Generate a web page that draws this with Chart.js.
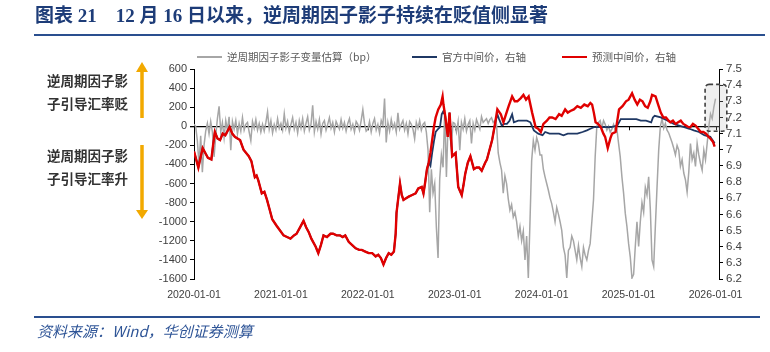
<!DOCTYPE html>
<html>
<head>
<meta charset="utf-8">
<script src="https://cdn.jsdelivr.net/npm/chart.js@4.4.1/dist/chart.umd.min.js"></script>
<style>
  html, body { margin: 0; padding: 0; background: #fff; }
  #wrap { position: relative; width: 770px; height: 352px; overflow: hidden; }
  #chart { position: absolute; left: 0; top: 0; }
  .abs { position: absolute; white-space: nowrap; }
  #title { left: 35px; top: 3px; font: bold 19px 'Liberation Serif', 'Noto Sans CJK SC', serif; color: #1d3c78; line-height: 26px; }
  .rule { position: absolute; height: 2px; background: #2a4f8f; }
  .lg { top: 50px; font: 10.5px 'Noto Sans CJK SC', sans-serif; color: #595959; line-height: 14px; }
  .lg i { display: inline-block; width: 25px; height: 2px; vertical-align: middle; margin-right: 5px; position: relative; top: -1px; }
  .note { left: 47px; font: bold 13.5px 'Noto Sans CJK SC', sans-serif; color: #333; line-height: 18px; }
  #src { left: 37px; top: 321px; font: italic 15px 'Noto Sans CJK SC', sans-serif; color: #2f5597; line-height: 20px; }
</style>
</head>
<body>
<div id="wrap">
  <canvas id="chart" width="770" height="352"></canvas>
  <div id="title" class="abs">图表 21　12 月 16 日以来，逆周期因子影子持续在贬值侧显著</div>
  <div class="rule" style="left:34px; top:34px; width:731px;"></div>
  <div class="abs lg" style="left:197px;"><i style="background:#a6a6a6"></i>逆周期因子影子变量估算（bp）</div>
  <div class="abs lg" style="left:412px;"><i style="background:#1f3864"></i>官方中间价，右轴</div>
  <div class="abs lg" style="left:562px;"><i style="background:#e00000"></i>预测中间价，右轴</div>
  <div class="abs note" style="top:71px;">逆周期因子影</div>
  <div class="abs note" style="top:94px;">子引导汇率贬</div>
  <div class="abs note" style="top:146px;">逆周期因子影</div>
  <div class="abs note" style="top:169px;">子引导汇率升</div>
  <svg class="abs" style="left:130px; top:55px;" width="24" height="170">
    <polygon points="12,7 6,17 18,17" fill="#f2a900"/>
    <rect x="10.25" y="16" width="3.5" height="47" fill="#f2a900"/>
    <rect x="10.25" y="90" width="3.5" height="66" fill="#f2a900"/>
    <polygon points="12,164 6,155 18,155" fill="#f2a900"/>
  </svg>
  <div class="rule" style="left:34px; top:316px; width:726px;"></div>
  <div id="src" class="abs">资料来源：Wind，华创证券测算</div>
</div>
<script>
// x values are decimal years
var xTickYears = [2020, 2021, 2022, 2023, 2024, 2025, 2026];

// counter-cyclical factor shadow estimate (bp), weekly, left axis
var gray2020 = [20, 0, -150, -400, -100, -480, -200, -50, 30, -80, 50, -60, -320, -100, 80, 210, -60, 40, -120, 60, -40, 100, -250, 50, -30, 60, -80, 30, -50, 90, -40, 20, 40, -60, -150, 50, -20, 70, -40, 30, -60, 20, -50, 40, 150, -30, 60, -70, 20, -40, 80, -20];
var gray2021 = [30, -40, 130, -20, 50, -60, 20, 90, -30, 40, -70, 60, -20, 80, -50, 30, 100, -40, 20, 220, -60, 50, -30, 70, -80, 30, 60, -40, 20, 90, -20, 40, -60, 50, 10, -30, 70, -20, 40, -50, 30, 80, -30, 20, -60, 50, 20, -40, 60, 175, 30, -50];
var gray2022 = [-30, 50, -60, 30, 80, -40, 20, -70, 60, 10, 290, -170, 40, -50, 70, -20, 30, -60, 140, -30, 20, 60, -40, 30, -80, 50, 20, -30, -130, 40, -20, 60, -40, 20, 40, -60, -250, -900, -450, -700, -600, -1060, -1380, -550, -300, -430, 170, -530, 30, -100, -200, 40];
var gray2023 = [30, -60, 50, -250, 40, -30, 80, -50, 20, 60, -180, 30, -40, 70, 20, -30, 100, 40, 60, 80, 30, 70, 90, 40, 60, 20, -280, -380, -460, -700, -520, -600, -760, -880, -820, -950, -900, -1000, -1150, -1050, -1200, -1100, -1400, -1150, -1590, -1000, -360, -150, -250, -120, -180, -300];
var gray2024 = [-300, -450, -530, -600, -670, -750, -810, -900, -1000, -850, -920, -1000, -1090, -1270, -1350, -1590, -1300, -1270, -1150, -1200, -1300, -1400, -1250, -1380, -1470, -1270, -1350, -1400, -1300, -1230, -1000, -770, -320, 0, 40, 60, -20, 60, 20, -40, 0, -60, -30, 20, -40, -30, -180, -320, -530, -700, -910, -1050];
var gray2025 = [-1230, -1370, -1590, -1550, -1260, -1000, -1260, -1000, -800, -900, -640, -720, -530, -870, -1400, -1470, -1050, -640, -250, 0, 80, -20, 30, -40, -70, -120, -170, -230, -300, -200, -250, -420, -350, -490, -560, -690, -480, -180, -350, -280, -420, -180, -300, -390, -460, -250, -350, -180, 0, 130, 80, 200, 290];

// forecast central parity, right axis
var redTimes = [2020.00, 2020.02, 2020.05, 2020.07, 2020.10, 2020.13, 2020.16, 2020.20, 2020.22, 2020.24, 2020.27, 2020.30, 2020.33, 2020.36, 2020.39, 2020.41, 2020.44, 2020.47, 2020.50, 2020.53, 2020.57, 2020.60, 2020.63, 2020.66, 2020.70, 2020.72, 2020.74, 2020.78, 2020.81, 2020.84, 2020.87, 2020.90, 2020.95, 2020.99,
  2021.03, 2021.07, 2021.11, 2021.15, 2021.18, 2021.22, 2021.26, 2021.29, 2021.32, 2021.35, 2021.37, 2021.40, 2021.43, 2021.46, 2021.49, 2021.53, 2021.57, 2021.60, 2021.64, 2021.68, 2021.71, 2021.74, 2021.78, 2021.82, 2021.86, 2021.90, 2021.93, 2021.97,
  2022.01, 2022.05, 2022.09, 2022.12, 2022.15, 2022.18, 2022.21, 2022.24, 2022.27, 2022.30, 2022.32, 2022.33, 2022.35, 2022.37, 2022.39, 2022.41, 2022.44, 2022.47, 2022.51, 2022.55, 2022.58, 2022.62, 2022.64, 2022.66, 2022.68, 2022.70, 2022.72, 2022.74, 2022.76, 2022.78, 2022.81, 2022.84, 2022.86, 2022.87, 2022.89, 2022.92, 2022.94, 2022.97,
  2023.01, 2023.04, 2023.08, 2023.10, 2023.12, 2023.15, 2023.18, 2023.22, 2023.25, 2023.28, 2023.31, 2023.35, 2023.37, 2023.40, 2023.43, 2023.46, 2023.49, 2023.53, 2023.56, 2023.59, 2023.62, 2023.66, 2023.69, 2023.72, 2023.76, 2023.79, 2023.82, 2023.85, 2023.89, 2023.93, 2023.96, 2023.99,
  2024.02, 2024.06, 2024.09, 2024.12, 2024.16, 2024.20, 2024.23, 2024.27, 2024.30, 2024.33, 2024.37, 2024.41, 2024.45, 2024.49, 2024.53, 2024.56, 2024.58, 2024.60, 2024.62, 2024.65, 2024.68, 2024.71, 2024.73, 2024.76, 2024.79, 2024.81, 2024.85, 2024.87, 2024.89, 2024.93, 2024.97,
  2025.00, 2025.04, 2025.07, 2025.10, 2025.13, 2025.16, 2025.19, 2025.22, 2025.25, 2025.27, 2025.31, 2025.34, 2025.37, 2025.40, 2025.43, 2025.46, 2025.48, 2025.51, 2025.54, 2025.57, 2025.60, 2025.63, 2025.66, 2025.69, 2025.71, 2025.74, 2025.77, 2025.80, 2025.83, 2025.86, 2025.89, 2025.92, 2025.94, 2025.97, 2025.99];
var redValues = [6.99, 6.95, 6.89, 6.94, 7.01, 6.98, 6.95, 6.94, 7.03, 7.11, 7.07, 7.06, 7.10, 7.09, 7.12, 7.14, 7.10, 7.08, 7.07, 7.06, 7.00, 6.98, 6.96, 6.93, 6.83, 6.84, 6.81, 6.73, 6.74, 6.69, 6.63, 6.57, 6.53, 6.50,
  6.47, 6.46, 6.45, 6.47, 6.48, 6.52, 6.56, 6.52, 6.49, 6.45, 6.43, 6.40, 6.36, 6.41, 6.47, 6.46, 6.48, 6.48, 6.47, 6.47, 6.46, 6.47, 6.43, 6.41, 6.39, 6.38, 6.38, 6.37,
  6.36, 6.36, 6.34, 6.35, 6.33, 6.29, 6.33, 6.36, 6.35, 6.37, 6.48, 6.61, 6.70, 6.79, 6.72, 6.69, 6.70, 6.71, 6.72, 6.73, 6.76, 6.77, 6.73, 6.80, 6.88, 6.92, 6.98, 7.06, 7.14, 7.20, 7.25, 7.28, 7.33, 7.28, 7.21, 7.08, 7.23, 6.96,
  6.98, 6.77, 6.72, 6.78, 6.85, 6.92, 6.96, 6.88, 6.89, 6.89, 6.87, 6.92, 6.94, 7.00, 7.06, 7.15, 7.25, 7.22, 7.17, 7.22, 7.27, 7.33, 7.30, 7.30, 7.32, 7.34, 7.31, 7.33, 7.23, 7.14, 7.13, 7.11,
  7.16, 7.18, 7.20, 7.20, 7.19, 7.22, 7.21, 7.25, 7.23, 7.24, 7.25, 7.27, 7.26, 7.28, 7.27, 7.29, 7.28, 7.23, 7.17, 7.16, 7.14, 7.10, 7.08, 7.01, 7.07, 7.10, 7.11, 7.18, 7.25, 7.27, 7.30,
  7.31, 7.35, 7.31, 7.28, 7.31, 7.30, 7.27, 7.26, 7.30, 7.34, 7.33, 7.28, 7.23, 7.20, 7.20, 7.18, 7.17, 7.18, 7.16, 7.17, 7.18, 7.16, 7.15, 7.14, 7.14, 7.16, 7.15, 7.13, 7.11, 7.11, 7.10, 7.08, 7.07, 7.05, 7.02];

// official central parity, right axis: follows the forecast line in these spans, own values elsewhere
var blueSameAsRed = [[2020.00, 2022.70], [2022.89, 2023.46]];
var blueTimes = [2022.72, 2022.74, 2022.76, 2022.78, 2022.81, 2022.83, 2022.85, 2022.87,
  2023.49, 2023.51, 2023.54, 2023.57, 2023.60, 2023.63, 2023.66, 2023.68, 2023.73, 2023.78, 2023.83, 2023.87, 2023.91, 2023.96,
  2024.01, 2024.04, 2024.09, 2024.14, 2024.20, 2024.25, 2024.30, 2024.36, 2024.41, 2024.47, 2024.52, 2024.56, 2024.60, 2024.68, 2024.76, 2024.80, 2024.87, 2024.91, 2024.97,
  2025.03, 2025.09, 2025.14, 2025.20, 2025.26, 2025.28, 2025.30, 2025.37, 2025.45, 2025.52, 2025.58, 2025.64, 2025.70, 2025.75, 2025.81, 2025.87, 2025.94, 2025.99];
var blueValues = [6.90, 6.98, 7.05, 7.11, 7.13, 7.14, 7.22, 7.24,
  7.22, 7.19, 7.15, 7.16, 7.16, 7.18, 7.22, 7.17, 7.18, 7.18, 7.18, 7.17, 7.12, 7.10,
  7.09, 7.11, 7.10, 7.10, 7.10, 7.09, 7.10, 7.10, 7.10, 7.11, 7.12, 7.13, 7.14, 7.14, 7.14, 7.14, 7.15, 7.19, 7.19,
  7.19, 7.19, 7.18, 7.18, 7.17, 7.20, 7.21, 7.20, 7.18, 7.16, 7.15, 7.14, 7.13, 7.12, 7.11, 7.09, 7.08, 7.04];

document.addEventListener('DOMContentLoaded', function () {
    var grayYears = [[2020, gray2020], [2021, gray2021], [2022, gray2022], [2023, gray2023], [2024, gray2024], [2025, gray2025]];
    var grayPoints = [];
    grayYears.forEach(function (g) {
        g[1].forEach(function (v, i) { grayPoints.push({ x: g[0] + i / 52, y: v }); });
    });

    var redPoints = redTimes.map(function (t, i) { return { x: t, y: redValues[i] }; });
    var bluePoints = redPoints.filter(function (p) {
        return blueSameAsRed.some(function (r) { return p.x >= r[0] && p.x <= r[1]; });
    }).concat(blueTimes.map(function (t, i) { return { x: t, y: blueValues[i] }; }))
      .sort(function (a, b) { return a.x - b.x; });

    // dashed highlight box around the latest readings
    var highlightBox = {
        id: 'highlightBox',
        afterDatasetsDraw: function (chart) {
            var x = chart.scales.x, y1 = chart.scales.y1, ctx = chart.ctx;
            var l = x.getPixelForValue(2025.88), r = x.getPixelForValue(2026.13);
            var t = y1.getPixelForValue(7.405), b = y1.getPixelForValue(7.115);
            ctx.save();
            ctx.beginPath();
            ctx.roundRect(l, t, r - l, b - t, 4);
            ctx.fillStyle = 'rgba(190,190,190,0.25)';
            ctx.fill();
            ctx.setLineDash([4, 3]);
            ctx.lineWidth = 1.6;
            ctx.strokeStyle = '#404040';
            ctx.stroke();
            ctx.restore();
        },
        beforeDatasetsDraw: function (chart) {
            // small year ticks sitting under the zero line
            var x = chart.scales.x, y0 = chart.scales.y.getPixelForValue(0), ctx = chart.ctx;
            ctx.save();
            ctx.strokeStyle = '#000';
            ctx.lineWidth = 1;
            xTickYears.forEach(function (yr) {
                var px = Math.round(x.getPixelForValue(yr)) + 0.5;
                ctx.beginPath();
                ctx.moveTo(px, y0);
                ctx.lineTo(px, y0 + 4);
                ctx.stroke();
            });
            ctx.restore();
        }
    };

    Chart.defaults.font.family = "'Liberation Sans', Arial, sans-serif";
    Chart.defaults.color = '#404040';

    var ctx = document.getElementById('chart').getContext('2d');
    new Chart(ctx, {
        type: 'line',
        data: {
            datasets: [
                {
                    label: '逆周期因子影子变量估算（bp）',
                    data: grayPoints,
                    yAxisID: 'y',
                    borderColor: '#a6a6a6',
                    borderWidth: 1.5,
                    pointRadius: 0,
                    order: 3
                },
                {
                    label: '官方中间价，右轴',
                    data: bluePoints,
                    yAxisID: 'y1',
                    borderColor: '#1f3864',
                    borderWidth: 1.8,
                    pointRadius: 0,
                    order: 2
                },
                {
                    label: '预测中间价，右轴',
                    data: redPoints,
                    yAxisID: 'y1',
                    borderColor: '#e00000',
                    borderWidth: 2.4,
                    pointRadius: 0,
                    order: 1
                }
            ]
        },
        options: {
            events: [],
            responsive: false,
            animation: false,
            layout: { padding: { left: 150, right: 15, top: 69, bottom: 49 } },
            scales: {
                x: {
                    type: 'linear',
                    min: 2020,
                    max: 2026.04,
                    afterFit: function (s) { s.height = 24; },
                    afterBuildTicks: function (s) { s.ticks = xTickYears.map(function (v) { return { value: v }; }); },
                    grid: { display: false, drawTicks: false },
                    border: { display: false },
                    ticks: {
                        padding: 10,
                        maxRotation: 0,
                        autoSkip: false,
                        font: { size: 10.5 },
                        callback: function (v) { return v + '-01-01'; }
                    }
                },
                y: {
                    position: 'left',
                    min: -1600,
                    max: 600,
                    afterFit: function (s) { s.width = 44; },
                    border: { display: true, color: '#000', width: 1 },
                    grid: {
                        color: function (c) { return c.tick && c.tick.value === 0 ? '#000' : 'rgba(0,0,0,0)'; },
                        lineWidth: function (c) { return c.tick && c.tick.value === 0 ? 1.3 : 1; },
                        tickColor: '#000',
                        tickLength: 4
                    },
                    ticks: {
                        stepSize: 200,
                        padding: 3,
                        autoSkip: false,
                        font: { size: 11 },
                        callback: function (v) { return String(v); }
                    }
                },
                y1: {
                    position: 'right',
                    min: 6.2,
                    max: 7.5,
                    afterFit: function (s) { s.width = 36; },
                    border: { display: true, color: '#000', width: 1 },
                    grid: { drawOnChartArea: false, tickColor: '#000', tickLength: 4 },
                    ticks: {
                        stepSize: 0.1,
                        padding: 3,
                        autoSkip: false,
                        font: { size: 11.5 },
                        callback: function (v) { return String(Math.round(v * 10) / 10); }
                    }
                }
            },
            plugins: {
                legend: { display: false },
                tooltip: { enabled: false }
            }
        },
        plugins: [highlightBox]
    });
});
</script>
</body>
</html>
